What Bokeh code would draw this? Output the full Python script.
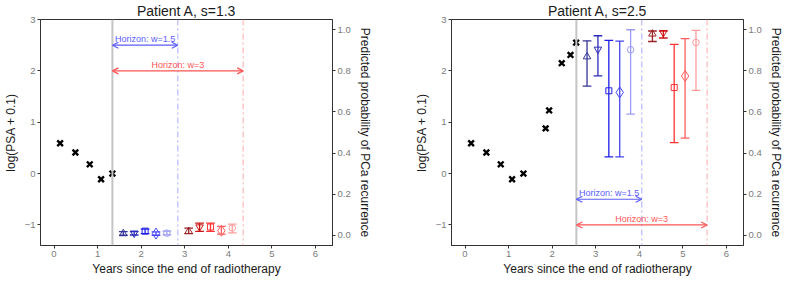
import numpy as np
from bokeh.plotting import figure
from bokeh.layouts import row
from bokeh.models import (Range1d, LinearAxis, Span, Arrow, OpenHead, Label,
                          ColumnDataSource, FixedTicker, NumeralTickFormatter)
from bokeh.embed import file_html
from bokeh.resources import INLINE

FONT = "Liberation Sans"

# ---- data -------------------------------------------------------------
titles = ["Patient A, s=1.3", "Patient A, s=2.5"]

psa_t_1 = [0.14, 0.49, 0.82, 1.08, 1.34]
psa_y_1 = [0.59, 0.41, 0.18, -0.11, 0.00]
psa_t_2 = [0.14, 0.49, 0.82, 1.08, 1.34, 1.85, 1.93, 2.22, 2.42, 2.55]
psa_y_2 = [0.59, 0.41, 0.18, -0.11, 0.00, 0.88, 1.23, 2.15, 2.31, 2.55]

s_1 = 1.34
s_2 = 2.555
horizons = [1.5, 3]

markers = ["triangle", "inverted_triangle", "square", "diamond", "circle"]
marker_sizes = [7.5, 7.5, 6, 11, 6.5]
blue_cols = ["#33339A", "#2A2ABA", "#1E1EE8", "#4545F2", "#9C9CF6"]
red_cols = ["#9A2424", "#CC1414", "#FF3333", "#FF5C5C", "#FF9E9E"]

# panel 1 (s=1.3)
blue_t_1 = [1.59, 1.84, 2.09, 2.34, 2.59]
blue_p_1 = [0.008, 0.010, 0.020, 0.008, 0.010]
blue_lo_1 = [0.000, 0.001, 0.008, 0.000, 0.002]
blue_hi_1 = [0.018, 0.018, 0.030, 0.016, 0.020]
red_t_1 = [3.09, 3.34, 3.59, 3.84, 4.09]
red_p_1 = [0.019, 0.040, 0.040, 0.022, 0.035]
red_lo_1 = [0.008, 0.019, 0.019, 0.005, 0.011]
red_hi_1 = [0.035, 0.059, 0.059, 0.043, 0.054]

# panel 2 (s=2.5)
blue_t_2 = [2.80, 3.05, 3.30, 3.55, 3.80]
blue_p_2 = [0.869, 0.905, 0.703, 0.695, 0.903]
blue_lo_2 = [0.726, 0.776, 0.381, 0.381, 0.589]
blue_hi_2 = [0.946, 0.971, 0.948, 0.945, 1.000]
red_t_2 = [4.30, 4.55, 4.80, 5.05, 5.30]
red_p_2 = [0.980, 0.986, 0.719, 0.775, 0.938]
red_lo_2 = [0.943, 0.960, 0.451, 0.473, 0.705]
red_hi_2 = [0.994, 0.994, 0.929, 0.957, 0.997]

x_ticks = [0, 1, 2, 3, 4, 5, 6]
y_ticks = [-1, 0, 1, 2, 3]
p_ticks = [0.0, 0.2, 0.4, 0.6, 0.8, 1.0]

AX = "#333333"
TICKLAB = "#7a7a7a"
ARROW_BLUE = "#5C5CFF"
ARROW_RED = "#FF5555"


def make_panel(title, psa_t, psa_y, s, bt, bp, blo, bhi, rt, rp, rlo, rhi,
               arrow_y, bl, br):
    p = figure(frame_width=292, frame_height=226, output_backend="svg",
               toolbar_location=None, x_range=Range1d(-0.31, 6.39),
               y_range=Range1d(-1.4, 3.0), min_border_left=bl,
               min_border_right=br, min_border_top=0, min_border_bottom=0,
               title=title)
    p.title.text_font = FONT
    p.title.text_font_size = "14px"
    p.title.text_font_style = "normal"
    p.title.align = "center"
    p.title.text_color = "#1a1a1a"
    p.title.standoff = 1
    p.xgrid.visible = False
    p.ygrid.visible = False
    p.background_fill_color = "white"
    p.border_fill_color = "white"
    p.outline_line_color = AX
    p.outline_line_width = 1

    p.extra_y_ranges = {"prob": Range1d(-0.05, 1.05)}
    rax = LinearAxis(y_range_name="prob",
                     axis_label="Predicted probability of PCa recurrence")
    p.add_layout(rax, "right")

    p.xaxis.axis_label = "Years since the end of radiotherapy"
    p.yaxis[0].axis_label = "log(PSA + 0.1)"
    p.xaxis.ticker = FixedTicker(ticks=x_ticks)
    p.yaxis[0].ticker = FixedTicker(ticks=y_ticks)
    p.yaxis[0].major_label_overrides = {-1: "\u22121"}
    rax.ticker = FixedTicker(ticks=p_ticks)
    rax.formatter = NumeralTickFormatter(format="0.0")
    for ax in [p.xaxis[0], p.yaxis[0], rax]:
        ax.axis_line_color = AX
        ax.major_tick_line_color = AX
        ax.major_tick_out = 3
        ax.major_tick_in = 0
        ax.minor_tick_line_color = None
        ax.major_label_text_font = FONT
        ax.major_label_text_font_size = "9.5px"
        ax.major_label_text_color = TICKLAB
        ax.major_label_standoff = 2
        ax.axis_label_text_font = FONT
        ax.axis_label_text_font_size = "12px"
        ax.axis_label_text_font_style = "normal"
        ax.axis_label_text_color = "#1a1a1a"
        ax.axis_label_standoff = 4
    p.xaxis[0].axis_label_standoff = 2

    # vertical reference lines
    p.add_layout(Span(location=s, dimension="height", line_color="#C4C4C4",
                      line_width=2))
    p.add_layout(Span(location=s + horizons[0], dimension="height",
                      line_color="#BDBDFF", line_width=1.3,
                      line_dash="6 3 2 3"))
    p.add_layout(Span(location=s + horizons[1], dimension="height",
                      line_color="#FFBDBD", line_width=1.3,
                      line_dash="6 3 2 3"))

    # horizon arrows
    for w, ya, c in zip(horizons, arrow_y, [ARROW_BLUE, ARROW_RED]):
        p.add_layout(Arrow(x_start=s, x_end=s + w, y_start=ya, y_end=ya,
                           line_color=c, line_width=1.2,
                           start=OpenHead(size=6, line_color=c, line_width=1.2),
                           end=OpenHead(size=6, line_color=c, line_width=1.2)))
        p.add_layout(Label(x=s + w / 2, y=ya, text=f"Horizon: w={w}",
                           text_align="center", text_baseline="bottom",
                           y_offset=1, text_font=FONT,
                           text_font_size="9px", text_color=c))

    # predictions with error bars
    for ts, ps, los, his, cols in [(bt, bp, blo, bhi, blue_cols),
                                   (rt, rp, rlo, rhi, red_cols)]:
        for i in range(len(ts)):
            src = ColumnDataSource(dict(t=[ts[i]], p=[ps[i]], lo=[los[i]],
                                        hi=[his[i]],
                                        c0=[ts[i] - 0.1], c1=[ts[i] + 0.1]))
            p.segment(x0="t", y0="lo", x1="t", y1="hi", source=src,
                      y_range_name="prob", line_color=cols[i], line_width=1.3)
            p.segment(x0="c0", y0="lo", x1="c1", y1="lo", source=src,
                      y_range_name="prob", line_color=cols[i], line_width=1.3)
            p.segment(x0="c0", y0="hi", x1="c1", y1="hi", source=src,
                      y_range_name="prob", line_color=cols[i], line_width=1.3)
            p.scatter(x="t", y="p", source=src, y_range_name="prob",
                      marker=markers[i], size=marker_sizes[i],
                      fill_color=None, line_color=cols[i], line_width=1)

    # PSA measurements
    p.scatter(psa_t, psa_y, marker="x", size=8, line_color="black",
              line_width=2.4)
    return p


p1 = make_panel(titles[0], psa_t_1, psa_y_1, s_1, blue_t_1, blue_p_1,
                blue_lo_1, blue_hi_1, red_t_1, red_p_1, red_lo_1, red_hi_1,
                [2.5, 2.0], 31, 63)
p2 = make_panel(titles[1], psa_t_2, psa_y_2, s_2, blue_t_2, blue_p_2,
                blue_lo_2, blue_hi_2, red_t_2, red_p_2, red_lo_2, red_hi_2,
                [-0.5, -1.0], 56, 46)

layout = row(p1, p2)
open("out.html", "w").write(file_html(layout, INLINE))
